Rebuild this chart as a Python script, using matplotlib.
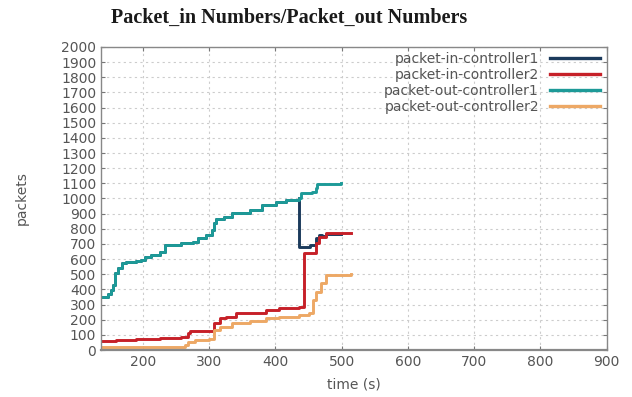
import matplotlib
matplotlib.use("Agg")
import matplotlib.pyplot as plt

# step data (time in s, packets)
out1_t = [138, 148, 152, 155, 158, 163, 168, 175, 190, 197, 203, 212, 226, 233, 257, 275,
          283, 295, 304, 308, 311, 323, 335, 361, 380, 401, 416, 436, 439, 455, 461, 463, 499]
out1_v = [350, 370, 396, 430, 508, 541, 574, 581, 590, 594, 614, 627, 647, 693, 706, 713,
          739, 759, 792, 838, 865, 878, 904, 924, 957, 977, 990, 1003, 1036, 1043, 1069, 1096, 1102]

in1_t = out1_t[:28] + [436, 452, 461, 466, 471, 477, 499]
in1_v = out1_v[:28] + [680, 693, 739, 759, 752, 765, 765]

in2_t = [138, 160, 190, 226, 257, 268, 271, 308, 316, 326, 341, 386, 406, 436, 443, 461, 466, 477, 514]
in2_v = [59, 66, 72, 79, 86, 112, 125, 178, 211, 218, 244, 264, 277, 284, 640, 706, 746, 772, 775]

out2_t = [138, 263, 268, 278, 300, 308, 316, 335, 361, 386, 406, 436, 451, 456, 462, 469, 477, 514]
out2_v = [20, 33, 53, 66, 73, 132, 152, 178, 191, 211, 218, 231, 244, 330, 383, 442, 495, 502]

series = [
    ("packet-in-controller1", in1_t, in1_v, "#1b3a5c"),
    ("packet-in-controller2", in2_t, in2_v, "#c62028"),
    ("packet-out-controller1", out1_t, out1_v, "#1d9a98"),
    ("packet-out-controller2", out2_t, out2_v, "#eda865"),
]

gray = "#555555"

fig = plt.figure(figsize=(6.32, 3.97), dpi=100)
ax = fig.add_axes([0.160, 0.118, 0.800, 0.764])

for name, t, v, c in series:
    ax.plot(t, v, drawstyle="steps-post", color=c, lw=2.1, label=name)

ax.set_xlim(137, 900)
ax.set_ylim(0, 2000)
ax.set_xticks(range(200, 901, 100))
ax.set_yticks(range(0, 2001, 100))
ax.grid(True, color="#cccccc", linestyle=(0, (2, 3)), lw=0.8)
ax.tick_params(direction="in", top=True, right=True, length=3, color="#777777",
               labelcolor=gray, labelsize=10)
for s in ax.spines.values():
    s.set_color("#888888")
    s.set_linewidth(1.0)
ax.spines["bottom"].set_linewidth(1.6)

ax.set_xlabel("time (s)", color=gray, fontsize=10, labelpad=6)
ax.set_ylabel("packets", color=gray, fontsize=10, labelpad=23)

fig.text(289 / 632, 0.955, "Packet_in Numbers/Packet_out Numbers", ha="center", va="center",
         family="Liberation Serif", fontweight="bold", fontsize=14.5, color="#1a1a1a")

leg = ax.legend(loc="upper right", bbox_to_anchor=(600 / 632, 1 - 52 / 397),
                bbox_transform=fig.transFigure, frameon=False, markerfirst=False,
                fontsize=10, handlelength=3.6, handletextpad=0.8, labelspacing=0.15,
                borderpad=0, borderaxespad=0)
for txt in leg.get_texts():
    txt.set_color(gray)
for ln in leg.get_lines():
    ln.set_linewidth(2.4)

fig.savefig("out.png", dpi=100)
